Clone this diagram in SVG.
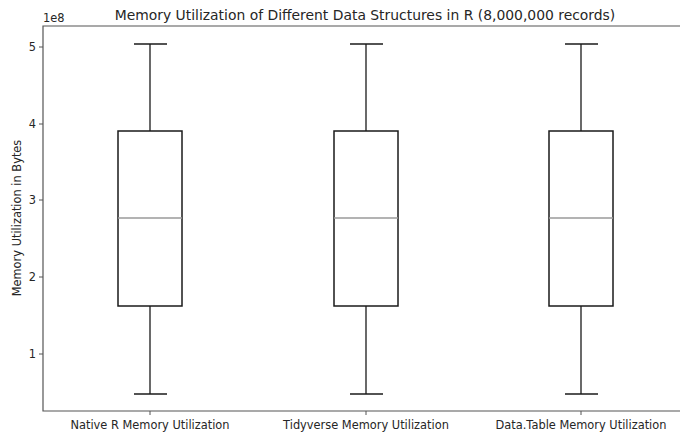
<svg xmlns="http://www.w3.org/2000/svg" width="680" height="436" viewBox="0 0 680 436">
<style>
text{font-family:"DejaVu Sans",sans-serif;fill:#262626}
.tl{font-size:11.4px}
.box{fill:none;stroke:#1a1a1a;stroke-width:1.5}
.wh{stroke:#1a1a1a;stroke-width:1.3}
.med{stroke:#9a9a9a;stroke-width:1.5}
.ax{stroke:#555;stroke-width:1.2;fill:none}
.tk{stroke:#555;stroke-width:1}
</style>
<rect width="680" height="436" fill="#fff"/>
<text x="365" y="20" font-size="13.9" text-anchor="middle">Memory Utilization of Different Data Structures in R (8,000,000 records)</text>
<text x="43" y="22" class="tl">1e8</text>
<g id="axes">
<path class="ax" d="M681,26 H43 V411 H681"/>
<g class="tk">
<line x1="39" y1="47" x2="43" y2="47"/><line x1="39" y1="124" x2="43" y2="124"/><line x1="39" y1="200" x2="43" y2="200"/><line x1="39" y1="277" x2="43" y2="277"/><line x1="39" y1="354" x2="43" y2="354"/>
<line x1="150" y1="411" x2="150" y2="415"/><line x1="366" y1="411" x2="366" y2="415"/><line x1="581" y1="411" x2="581" y2="415"/>
</g>
<g class="tl" text-anchor="end">
<text x="36" y="51">5</text><text x="36" y="128">4</text><text x="36" y="204">3</text><text x="36" y="281">2</text><text x="36" y="358">1</text>
</g>
<g class="tl" text-anchor="middle">
<text x="150" y="429">Native R Memory Utilization</text>
<text x="366" y="429">Tidyverse Memory Utilization</text>
<text x="581" y="429">Data.Table Memory Utilization</text>
</g>
<text class="tl" transform="translate(21,218) rotate(-90)" text-anchor="middle">Memory Utilization in Bytes</text>
</g>
<g id="box-native">
<line class="wh" x1="150" y1="44" x2="150" y2="131"/><line class="wh" x1="134" y1="44" x2="167" y2="44"/>
<line class="wh" x1="150" y1="306" x2="150" y2="394"/><line class="wh" x1="134" y1="394" x2="167" y2="394"/>
<rect class="box" x="118" y="131" width="64" height="175"/>
<line class="med" x1="118" y1="218" x2="182" y2="218"/>
</g>
<g id="box-tidyverse">
<line class="wh" x1="366" y1="44" x2="366" y2="131"/><line class="wh" x1="350" y1="44" x2="383" y2="44"/>
<line class="wh" x1="366" y1="306" x2="366" y2="394"/><line class="wh" x1="350" y1="394" x2="383" y2="394"/>
<rect class="box" x="334" y="131" width="64" height="175"/>
<line class="med" x1="334" y1="218" x2="398" y2="218"/>
</g>
<g id="box-datatable">
<line class="wh" x1="581" y1="44" x2="581" y2="131"/><line class="wh" x1="565" y1="44" x2="598" y2="44"/>
<line class="wh" x1="581" y1="306" x2="581" y2="394"/><line class="wh" x1="565" y1="394" x2="598" y2="394"/>
<rect class="box" x="549" y="131" width="64" height="175"/>
<line class="med" x1="549" y1="218" x2="613" y2="218"/>
</g>
</svg>
